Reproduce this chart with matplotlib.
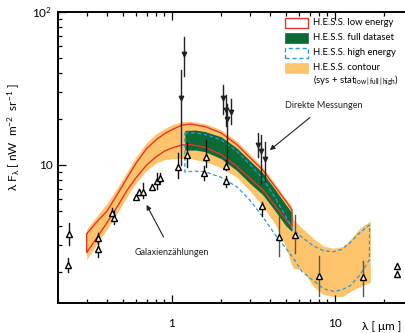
import numpy as np
import matplotlib
matplotlib.use("Agg")
import matplotlib.pyplot as plt
from matplotlib.patches import Rectangle
from matplotlib.ticker import FixedLocator, NullFormatter, FixedFormatter

plt.rcParams['font.family'] = ['Lato', 'DejaVu Sans']
plt.rcParams['mathtext.default'] = 'regular'

# ---------------- data ----------------
# H.E.S.S. contour (sys + stat), orange band
lam_c = [0.30, 0.35, 0.40, 0.47, 0.53, 0.60, 0.70, 0.80, 0.90, 1.0, 1.15, 1.3, 1.6, 2.0,
         2.5, 3.0, 3.6, 4.3, 5.0, 5.4, 5.55, 6.3, 7.4, 8.5, 9.8, 11.2, 12.6, 14.2, 16.5]
c_top = [3.8, 4.7, 5.6, 7.3, 9.0, 11.2, 14.0, 16.0, 17.3, 18.3, 19.2, 19.3, 18.6, 17.0,
         14.3, 11.8, 9.7, 7.5, 6.0, 5.4, 4.4, 3.85, 3.3, 2.95, 2.85, 2.92, 3.3, 3.85, 4.3]
c_bot = [2.4, 3.1, 3.8, 5.0, 6.2, 7.6, 9.2, 10.3, 10.8, 11.0, 11.0, 11.0, 10.5, 9.6,
         8.3, 6.8, 5.4, 4.1, 2.9, 2.25, 2.12, 2.05, 1.6, 1.42, 1.38, 1.38, 1.5, 1.6, 1.7]

# H.E.S.S. low energy (red outline)
lam_r = [0.30, 0.35, 0.40, 0.47, 0.53, 0.60, 0.70, 0.80, 0.90, 1.0, 1.15, 1.3, 1.6, 2.0,
         2.5, 3.0, 3.6, 4.3, 5.0, 5.45]
r_top = [3.55, 4.3, 5.0, 6.6, 8.2, 10.2, 12.8, 14.6, 16.0, 17.0, 18.2, 18.5, 17.8, 16.2,
         13.6, 11.2, 9.3, 7.2, 5.8, 5.1]
r_bot = [2.67, 3.4, 4.2, 5.5, 6.8, 8.2, 10.0, 11.3, 12.3, 12.9, 13.5, 13.6, 13.0, 11.7,
         9.8, 8.2, 6.9, 5.4, 4.4, 3.95]

# H.E.S.S. full dataset (green)
lam_g = [1.2, 1.4, 1.6, 2.0, 2.5, 3.0, 3.6, 4.3, 5.0, 5.45]
g_top = [16.8, 16.9, 16.5, 15.3, 12.9, 10.7, 8.9, 6.9, 5.5, 4.86]
g_bot = [12.5, 12.5, 12.2, 11.0, 9.2, 7.6, 6.4, 5.0, 4.0, 3.67]

# H.E.S.S. high energy (blue dashed outline)
lam_b = [1.2, 1.4, 1.6, 2.0, 2.5, 3.0, 3.6, 4.3, 5.0, 5.5, 6.3, 7.4, 8.5, 9.8, 11.0,
         12.4, 14.2, 16.3]
b_top = [16.2, 16.2, 15.8, 14.6, 12.3, 10.1, 8.2, 6.1, 4.6, 3.8, 3.35, 2.95, 2.75, 2.7,
         2.8, 3.1, 3.6, 4.05]
b_bot = [9.0, 9.1, 9.0, 8.3, 7.2, 5.9, 4.6, 3.5, 2.85, 2.5, 2.0, 1.75, 1.55, 1.49,
         1.52, 1.62, 1.9, 2.4]

# Galaxy counts (open up-triangles)
gc_lam = [0.231, 0.233, 0.353, 0.353, 0.427, 0.443, 0.599, 0.631, 0.667, 0.757, 0.806,
          0.844, 1.093, 1.24, 1.57, 1.61, 2.16, 2.16, 3.55, 4.52, 5.70, 8.0, 14.9, 24.1, 24.1]
gc_val = [2.22, 3.54, 3.32, 2.82, 4.88, 4.49, 6.2, 6.69, 6.69, 7.22, 7.8,
          8.27, 9.75, 11.6, 8.83, 11.3, 9.85, 7.8, 5.4, 3.4, 3.5, 1.88, 1.84, 2.19, 1.94]
gc_lo = [2.0, 3.0, 3.1, 2.5, 4.6, 4.1, 6.0, 6.4, 6.1, 7.0, 7.0,
         7.7, 8.2, 9.75, 8.0, 9.75, 9.2, 7.2, 4.6, 2.52, 2.66, 1.39, 1.38, 2.1, 1.86]
gc_hi = [2.45, 4.2, 3.6, 3.5, 5.2, 5.0, 6.4, 7.0, 7.6, 7.5, 8.9,
         8.9, 12.0, 13.9, 9.8, 14.6, 10.8, 8.4, 5.75, 4.6, 4.7, 2.54, 2.34, 2.3, 2.02]

# Direct measurements (filled down-triangles)
dm_lam = [1.135, 1.184, 2.06, 2.14, 2.18, 2.29, 3.36, 3.52, 3.74]
dm_val = [27.5, 53.5, 27.5, 23.0, 20.0, 22.3, 13.4, 12.3, 10.9]
dm_lo = [10.0, 38.0, 21.5, 18.0, 10.0, 18.5, 11.3, 7.5, 7.8]
dm_hi = [41.7, 69.0, 33.5, 28.5, 25.0, 27.0, 16.1, 15.7, 14.2]

x_major = [1, 10]
x_major_labels = ['1', '10']
y_major = [10, 100]
y_major_labels = ['10', '$10^2$']

legend_labels = ['H.E.S.S. low energy', 'H.E.S.S. full dataset', 'H.E.S.S. high energy',
                 'H.E.S.S. contour']

# ---------------- colours ----------------
ORANGE = '#fdc46c'
GREEN = '#0b6a36'
RED = '#e8332b'
BLUE = '#2a9bd6'

fig = plt.figure(figsize=(4.06, 3.33), dpi=100)
W, H = 406, 333
ax = fig.add_axes([58 / W, 30 / H, (433 - 58) / W, (303 - 12) / H])
ax.set_xscale('log')
ax.set_yscale('log')
ax.set_xlim(0.2, 40)
ax.set_ylim(1.25, 100)

# orange contour
ax.fill_between(lam_c, c_bot, c_top, color=ORANGE, lw=0, zorder=1)
# green full dataset
ax.fill_between(lam_g, g_bot, g_top, color=GREEN, lw=0, zorder=2)
# red outline (low energy)
r_x = list(lam_r) + list(lam_r[::-1]) + [lam_r[0]]
r_y = list(r_top) + list(r_bot[::-1]) + [r_top[0]]
ax.plot(r_x, r_y, color=RED, lw=1.0, zorder=3)
# blue dashed outline (high energy)
b_x = list(lam_b) + list(lam_b[::-1]) + [lam_b[0]]
b_y = list(b_top) + list(b_bot[::-1]) + [b_top[0]]
ax.plot(b_x, b_y, color=BLUE, lw=0.9, ls=(0, (3, 2)), zorder=4)

# data points
err_col = ['#111111' if l < 4 else '#555555' for l in gc_lam]
for l, lo, hi, c in zip(gc_lam, gc_lo, gc_hi, err_col):
    ax.plot([l, l], [lo, hi], color=c, lw=1.0, zorder=5)
ax.plot(gc_lam, gc_val, ls='none', marker='^', ms=4.6, mfc='white', mec='black',
        mew=1.0, zorder=6)
for l, lo, hi in zip(dm_lam, dm_lo, dm_hi):
    ax.plot([l, l], [lo, hi], color='#222222', lw=1.0, zorder=5)
ax.plot(dm_lam, dm_val, ls='none', marker='v', ms=3.2, mfc='#222222', mec='#222222',
        zorder=6)

# annotations
ax.annotate('Direkte Messungen', xy=(3.99, 12.5), xytext=(8.6, 24.3),
            fontsize=6.5, ha='center', va='center', color='#222222',
            arrowprops=dict(arrowstyle='-|>', color='#222222', lw=0.8,
                            shrinkA=5, shrinkB=0, mutation_scale=7))
ax.annotate('Galaxienzählungen', xy=(0.699, 5.48), xytext=(1.0, 2.66),
            fontsize=6.5, ha='center', va='center', color='#222222',
            arrowprops=dict(arrowstyle='-|>', color='#222222', lw=0.8,
                            shrinkA=7, shrinkB=0, mutation_scale=7))

# axes styling
for s in ax.spines.values():
    s.set_linewidth(1.4)
ax.xaxis.set_major_locator(FixedLocator(x_major))
ax.xaxis.set_major_formatter(FixedFormatter(x_major_labels))
ax.xaxis.set_minor_locator(FixedLocator(
    [0.2, 0.3, 0.4, 0.5, 0.6, 0.7, 0.8, 0.9, 2, 3, 4, 5, 6, 7, 8, 9, 20, 30, 40]))
ax.xaxis.set_minor_formatter(NullFormatter())
ax.yaxis.set_major_locator(FixedLocator(y_major))
ax.yaxis.set_major_formatter(FixedFormatter(y_major_labels))
ax.yaxis.set_minor_locator(FixedLocator(
    [2, 3, 4, 5, 6, 7, 8, 9, 20, 30, 40, 50, 60, 70, 80, 90]))
ax.yaxis.set_minor_formatter(NullFormatter())
ax.tick_params(which='both', direction='in', top=True, right=True, width=0.9,
               labelsize=8.5)
ax.tick_params(axis='x', which='major', pad=11)
ax.tick_params(axis='y', which='major', pad=4)
ax.tick_params(which='major', length=6)
ax.tick_params(which='minor', length=3)

fig.text(362 / W, 1 - 326 / H, 'λ [ μm ]', fontsize=8.5, ha='left', va='center')
fig.text(14 / W, 1 - 137 / H, 'λ F$_λ$ [ nW  m$^{-2}$  sr$^{-1}$ ]', fontsize=8.5,
         rotation=90, ha='center', va='center')

# legend (drawn manually in figure pixel positions)
row_y = [22.5, 37.5, 52.5, 68.0]
styles = [dict(facecolor='white', edgecolor=RED, lw=1.0),
          dict(facecolor=GREEN, edgecolor=GREEN, lw=0.5),
          dict(facecolor='white', edgecolor=BLUE, lw=1.0, ls=(0, (3, 2))),
          dict(facecolor=ORANGE, edgecolor=ORANGE, lw=0.5)]
for yc, st, lab in zip(row_y, styles, legend_labels):
    fig.add_artist(Rectangle((285 / W, 1 - (yc + 5) / H), 23 / W, 10 / H,
                             transform=fig.transFigure, **st))
    fig.text(313 / W, 1 - yc / H, lab, fontsize=6.8, ha='left', va='center')
fig.text(313 / W, 1 - 80.5 / H, '(sys + stat$_{low\,|\,full\,|\,high}$)', fontsize=6.8,
         ha='left', va='center')

fig.savefig('out.png', dpi=100)
